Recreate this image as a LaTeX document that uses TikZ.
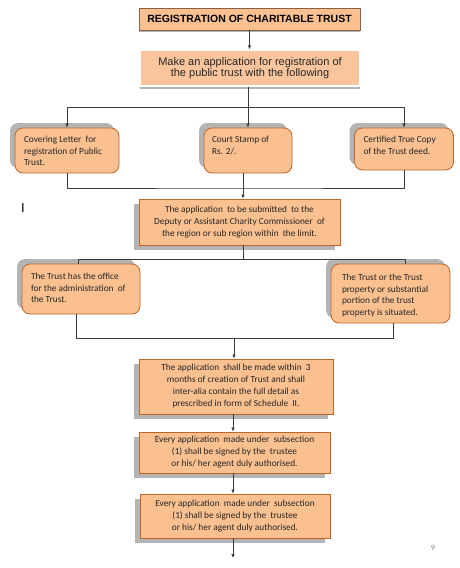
\documentclass[tikz,border=0pt]{standalone}
\usepackage{fontspec}
\setmainfont{Carlito}
\newfontfamily\arialf{Liberation Sans}
\usetikzlibrary{shadows,arrows.meta}
\definecolor{boxfill}{HTML}{FAC090}
\definecolor{appfill}{HTML}{FAC59D}
\definecolor{boxedge}{HTML}{C0662A}
\definecolor{titleedge}{HTML}{8A6040}
\definecolor{shadowgray}{HTML}{B4B4B4}
\definecolor{linegray}{HTML}{3A3A3A}
\definecolor{txt}{HTML}{262626}
\tikzset{
  sqbox/.style={draw=boxedge, fill=boxfill, line width=0.8pt, align=center, inner sep=0pt,
    text=txt, font=\fontsize{9.3}{12}\selectfont,
    drop shadow={shadow xshift=-5pt, shadow yshift=-5pt, fill=shadowgray, opacity=1}},
  rbox/.style={draw=boxedge, fill=boxfill, line width=0.8pt, rounded corners=8pt, inner sep=0pt,
    text=txt,
    drop shadow={shadow xshift=-5pt, shadow yshift=5pt, fill=shadowgray, opacity=1}},
  titlebox/.style={draw=titleedge, fill=boxfill, line width=0.8pt, inner sep=0pt,
    font=\arialf\bfseries\fontsize{10.5}{12}\selectfont,
    drop shadow={shadow xshift=0pt, shadow yshift=-2pt, fill=shadowgray, opacity=1}},
  appbox/.style={draw=white, fill=appfill, line width=1.2pt, inner sep=0pt, align=center,
    text=txt, font=\arialf\fontsize{11}{10.5}\selectfont,
    drop shadow={shadow xshift=0pt, shadow yshift=-3pt, fill=shadowgray, opacity=1}},
  conn/.style={draw=linegray, line width=0.7pt},
  arr/.style={conn, -{Latex[length=4pt,width=3.5pt]}},
}
\newcommand{\rtext}[4]{\parbox[c][#1pt][t]{#2pt}{\raggedright\fontsize{9.3}{11.7}\selectfont\vspace*{#3pt}#4}}
\begin{document}
\begin{tikzpicture}[x=1pt,y=-1pt]
\useasboundingbox[fill=white] (0,0) rectangle (460,568);

\node[titlebox, minimum width=221pt, minimum height=22pt] (t) at (249.5,19) {REGISTRATION OF CHARITABLE TRUST};
\node[appbox, minimum width=220pt, minimum height=36pt] (a) at (250,68) {Make an application for registration of\\the public trust with the following};

\node[rbox, inner xsep=9pt] (c1) at (67,150.5) {\rtext{45}{86}{8}{Covering Letter\ \ for\\registration of Public\\Trust.}};
\node[rbox, inner xsep=8pt] (c2) at (248,150.5) {\rtext{45}{72}{8}{Court Stamp of\\Rs. 2/.}};
\node[rbox, inner xsep=9pt] (c3) at (404,149) {\rtext{42}{81}{8}{Certified True Copy\\of the Trust deed.}};

\node[sqbox, minimum width=201pt, minimum height=46pt] (b4) at (239.5,222) {The application\ \ to be submitted\ \ to the\\Deputy or Assistant Charity Commissioner\ \ of\\the region or sub region within\ \ the limit.};

\node[rbox, inner xsep=9pt] (b5) at (81,289) {\rtext{50}{100}{9}{The Trust has the office\\for the administration\ \ of\\the Trust.}};
\node[rbox, inner xsep=11pt] (b6) at (390.5,293.5) {\rtext{59}{97}{10}{The Trust or the Trust\\property or substantial\\portion of the trust\\property is situated.}};

\node[sqbox, minimum width=194pt, minimum height=55pt] (b7) at (236,386.5) {The application\ \ shall be made within\ \ 3\\months of creation of Trust and shall\\inter-alia contain the full detail as\\prescribed in form of Schedule\ \ II.};
\node[sqbox, minimum width=191pt, minimum height=41pt] (b8) at (234.5,452.5) {Every application\ \ made under\ \ subsection\\(1) shall be signed by the\ \ trustee\\or his/ her agent duly authorised.};
\node[sqbox, minimum width=190pt, minimum height=44pt] (b9) at (235,516) {Every application\ \ made under\ \ subsection\\(1) shall be signed by the\ \ trustee\\or his/ her agent duly authorised.};

\node[font=\arialf\fontsize{13}{13}\selectfont, inner sep=0pt] (stray) at (23,208) {I};
\node[font=\fontsize{8}{8}\selectfont, text=gray, inner sep=0pt] (pg) at (433,548) {9};

% connectors
\draw[arr] (t.south) -- (t.south |- a.north);
\coordinate (j1) at (248,107);
\draw[conn] (a.south -| j1) -- (j1);
\draw[arr] (j1) -| (c1.north);
\draw[arr] (j1) -- (c2.north);
\draw[arr] (j1) -| (c3.north);

\coordinate (j2) at (243,188);
\draw[conn] (c1.south) |- (j2) -| (c3.south);
\draw[arr] (c2.south -| j2) -- (j2 |- b4.north);

\coordinate (j3) at (243,259);
\coordinate (j3l) at (78,259);
\coordinate (j3r) at (405,259);
\draw[conn] (b4.south -| j3) -- (j3);
\draw[conn] (j3l |- b5.north) -- (j3l) -- (j3r) -- (j3r |- b6.north);

\coordinate (j4) at (234,338);
\coordinate (j4l) at (76,338);
\coordinate (j4r) at (393,338);
\draw[conn] (b5.south -| j4l) -- (j4l) -- (j4r) -- (b6.south -| j4r);
\draw[arr] (j4) -- (j4 |- b7.north);

\coordinate (ax) at (233,0);
\coordinate (e) at (233,558);
\draw[arr] (b7.south -| ax) -- (b8.north -| ax);
\draw[arr] (b8.south -| ax) -- (b9.north -| ax);
\draw[arr] (b9.south -| ax) -- (e);
\end{tikzpicture}
\end{document}
